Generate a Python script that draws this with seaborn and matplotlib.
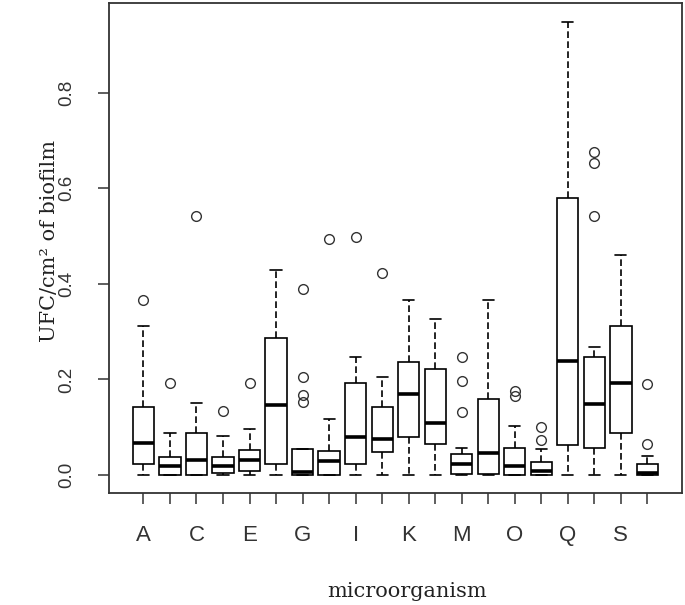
import seaborn as sns
import matplotlib.pyplot as plt
import pandas as pd

# five-number summaries, one entry per microorganism
groups = list("ABCDEFGHIJKLMNOPQRST")
whis_low = [0, 0, 0, 0, 0, 0, 0, 0, 0, 0, 0, 0, 0, 0, 0, 0, 0, 0, 0, 0]
q1 = [0.023, 0, 0, 0.003, 0.008, 0.023, 0, 0, 0.023, 0.048,
      0.079, 0.064, 0.002, 0.001, 0, 0, 0.063, 0.056, 0.088, 0]
med = [0.067, 0.018, 0.032, 0.018, 0.032, 0.146, 0.006, 0.029, 0.079, 0.076,
       0.169, 0.109, 0.023, 0.046, 0.018, 0.009, 0.239, 0.148, 0.192, 0.004]
q3 = [0.143, 0.037, 0.088, 0.037, 0.053, 0.286, 0.055, 0.050, 0.192, 0.143,
      0.237, 0.222, 0.044, 0.159, 0.056, 0.028, 0.579, 0.246, 0.311, 0.022]
whis_high = [0.311, 0.088, 0.151, 0.081, 0.096, 0.428, 0.055, 0.117, 0.246, 0.204,
             0.367, 0.326, 0.056, 0.367, 0.102, 0.055, 0.949, 0.267, 0.460, 0.039]
outliers = [[0.367], [0.192], [0.543], [0.133], [0.192], [],
            [0.153, 0.167, 0.204, 0.389], [0.493], [0.499], [0.422],
            [], [], [0.132, 0.197, 0.246], [], [0.165, 0.175],
            [0.074, 0.100], [], [0.543, 0.653, 0.676], [], [0.064, 0.190]]

# 25 values per group so that the quartiles land exactly on the summary
rows = []
for i, g in enumerate(groups):
    fl = outliers[i]
    vals = ([whis_low[i]] + [q1[i]] * 6 + [med[i]] * 6 + [q3[i]] * 6
            + [q3[i]] * (5 - len(fl)) + [whis_high[i]] + fl)
    rows += [(g, v) for v in vals]
df = pd.DataFrame(rows, columns=["microorganism", "ufc"])

sns.set_style("ticks")
plt.rcParams["font.family"] = ["Liberation Sans", "DejaVu Sans"]

fig = plt.figure(figsize=(6.85, 6.05), dpi=100)
ax = fig.add_axes([0.159, 0.185, 0.8365, 0.81])

sns.boxplot(data=df, x="microorganism", y="ufc", order=groups, ax=ax,
            color="white", linecolor="black", linewidth=1.2, width=0.8,
            whis=1.5, capwidths=0.42,
            whiskerprops=dict(linestyle=(0, (4, 2))),
            medianprops=dict(linewidth=2.6),
            flierprops=dict(marker="o", markerfacecolor="none",
                            markeredgecolor="#333333", markersize=7,
                            markeredgewidth=1.0))

ax.set_xlim(-1.3, 20.3)
ax.set_ylim(-0.038, 0.988)
ax.set_yticks([0.0, 0.2, 0.4, 0.6, 0.8])
ax.set_yticklabels(["0.0", "0.2", "0.4", "0.6", "0.8"], rotation=90,
                   va="center", fontsize=13.5, color="#333333")
ax.set_xticks(range(len(groups)))
ax.set_xticklabels([g if i % 2 == 0 else "" for i, g in enumerate(groups)],
                   fontsize=16, color="#333333")
ax.tick_params(axis="x", length=8, width=1.1, pad=15, color="#333333")
ax.tick_params(axis="y", length=8, width=1.1, pad=16, color="#333333")

for sp in ax.spines.values():
    sp.set_visible(True)
    sp.set_linewidth(1.3)
    sp.set_color("#333333")

ax.set_xlabel("microorganism", family="DejaVu Serif", fontsize=15, color="#222222")
ax.set_ylabel("UFC/cm² of biofilm", family="DejaVu Serif", fontsize=15, color="#222222")
ax.xaxis.set_label_coords(0.52, -0.181)
ax.yaxis.set_label_coords(-0.087, 0.514)

fig.savefig("out.png", dpi=100)
